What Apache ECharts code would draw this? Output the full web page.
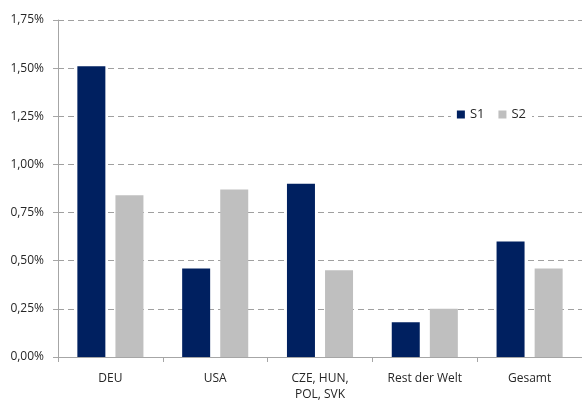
<!DOCTYPE html>
<html>
<head>
<meta charset="utf-8">
<script src="https://cdn.jsdelivr.net/npm/echarts@6/dist/echarts.min.js"></script>
<style>
  html, body { margin: 0; padding: 0; background: #fff; }
  #chart { width: 582px; height: 403px; }
</style>
</head>
<body>
<div id="chart"></div>
<script>
// chart data
var categories = ["DEU", "USA", "CZE, HUN,\nPOL, SVK", "Rest der Welt", "Gesamt"];
var s1Values = [1.51, 0.46, 0.90, 0.18, 0.60];
var s2Values = [0.84, 0.87, 0.45, 0.25, 0.46];
var yTicks = [0, 0.25, 0.5, 0.75, 1.0, 1.25, 1.5, 1.75];

var textColor = "#262626";
var fontFamily = "'Open Sans', sans-serif";

// format 1.25 => '1,25%'
function formatPercent(val) {
  return val.toFixed(2).replace(".", ",") + "%";
}

var myChart = echarts.init(document.getElementById("chart"));

var option = {
  animation: false,
  textStyle: { fontFamily: fontFamily },
  grid: {
    left: 58,
    top: 20,
    width: 528,
    height: 337
  },
  legend: {
    data: ["S1", "S2"],
    right: 50,
    top: 106,
    itemWidth: 8,
    itemHeight: 8,
    itemGap: 14,
    padding: [2, 6],
    backgroundColor: "#fff",
    icon: "rect",
    textStyle: { color: textColor, fontSize: 13, fontFamily: fontFamily }
  },
  xAxis: {
    type: "category",
    data: categories,
    axisLine: { lineStyle: { color: "#a6a6a6" } },
    axisTick: { show: true, length: 5, lineStyle: { color: "#a6a6a6" } },
    axisLabel: {
      color: textColor,
      fontSize: 12,
      margin: 14,
      lineHeight: 16,
      interval: 0
    }
  },
  yAxis: {
    type: "value",
    min: yTicks[0],
    max: yTicks[yTicks.length - 1],
    interval: 0.25,
    axisLine: { show: true, lineStyle: { color: "#a6a6a6" } },
    axisTick: { show: true, length: 5, lineStyle: { color: "#a6a6a6" } },
    axisLabel: {
      color: textColor,
      fontSize: 12,
      margin: 14,
      formatter: formatPercent
    },
    splitLine: {
      show: true,
      lineStyle: { color: "#a0a0a0", type: [6, 4], width: 1 }
    }
  },
  series: [
    {
      name: "S1",
      type: "bar",
      data: s1Values,
      barWidth: 28,
      barGap: "36%",
      itemStyle: { color: "#002060" }
    },
    {
      name: "S2",
      type: "bar",
      data: s2Values,
      barWidth: 28,
      itemStyle: { color: "#bfbfbf" }
    }
  ]
};

myChart.setOption(option);
</script>
</body>
</html>
